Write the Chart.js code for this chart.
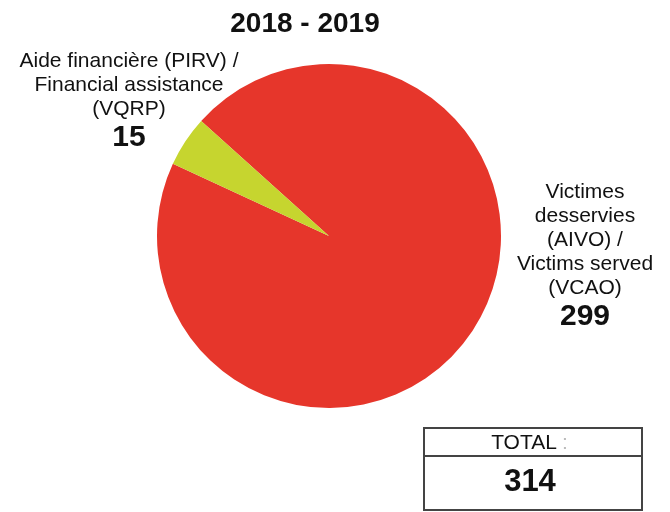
<!DOCTYPE html>
<html>
<head>
<meta charset="utf-8">
<script src="https://cdn.jsdelivr.net/npm/chart.js@4/dist/chart.umd.min.js"></script>
<style>
    html, body { margin: 0; padding: 0; background: #fff; }
    #wrap { width: 670px; height: 512px; position: relative; }
</style>
</head>
<body>
<div id="wrap"><canvas id="pieChart" width="670" height="512"></canvas></div>
<script>
// données 2018 - 2019
const titre = '2018 - 2019';
const categories = [
    ['Victimes', 'desservies', '(AIVO) /', 'Victims served', '(VCAO)'],
    ['Aide financière (PIRV) /', 'Financial assistance', '(VQRP)']
];
const valeurs = [299, 15];
const couleurs = ['#e6362b', '#c6d52f'];

const FONT = '"Liberation Sans", Arial, sans-serif';

// étiquettes, titre et boîte total dessinés après le graphique
const etiquettesPlugin = {
    id: 'etiquettes',
    afterDraw(chart) {
        const ctx = chart.ctx;
        ctx.save();
        ctx.fillStyle = '#111';
        ctx.textAlign = 'center';
        ctx.textBaseline = 'middle';

        ctx.font = 'bold 28px ' + FONT;
        ctx.fillText(titre, 305, 24);

        // positions des étiquettes (x, y de la première ligne)
        const positions = [[585, 192], [129, 61]];
        categories.forEach((lignes, i) => {
            const [x, y] = positions[i];
            ctx.font = '21px ' + FONT;
            lignes.forEach((l, j) => ctx.fillText(l, x, y + j * 24));
            ctx.font = 'bold 30px ' + FONT;
            ctx.fillText(String(valeurs[i]), x, y + (lignes.length - 1) * 24 + 29);
        });

        // boîte total
        const total = valeurs.reduce((a, b) => a + b, 0);
        ctx.strokeStyle = '#444';
        ctx.lineWidth = 2;
        ctx.strokeRect(424, 428, 218, 82);
        ctx.beginPath();
        ctx.moveTo(424, 456);
        ctx.lineTo(642, 456);
        ctx.stroke();
        ctx.font = '21px ' + FONT;
        ctx.fillText('TOTAL', 524, 443);
        ctx.fillStyle = '#bbb';
        ctx.fillText(':', 565, 443);
        ctx.fillStyle = '#111';
        ctx.font = 'bold 31px ' + FONT;
        ctx.fillText(String(total), 530, 482);
        ctx.restore();
    }
};

new Chart(document.getElementById('pieChart').getContext('2d'), {
    type: 'pie',
    data: {
        labels: categories.map(c => c.join(' ')),
        datasets: [{
            data: valeurs,
            backgroundColor: couleurs,
            borderWidth: 0
        }]
    },
    options: {
        responsive: false,
        animation: false,
        rotation: -48,
        layout: { padding: { top: 64, bottom: 104, left: 157, right: 169 } },
        plugins: {
            legend: { display: false },
            tooltip: { enabled: false },
            title: { display: false }
        }
    },
    plugins: [etiquettesPlugin]
});
</script>
</body>
</html>
